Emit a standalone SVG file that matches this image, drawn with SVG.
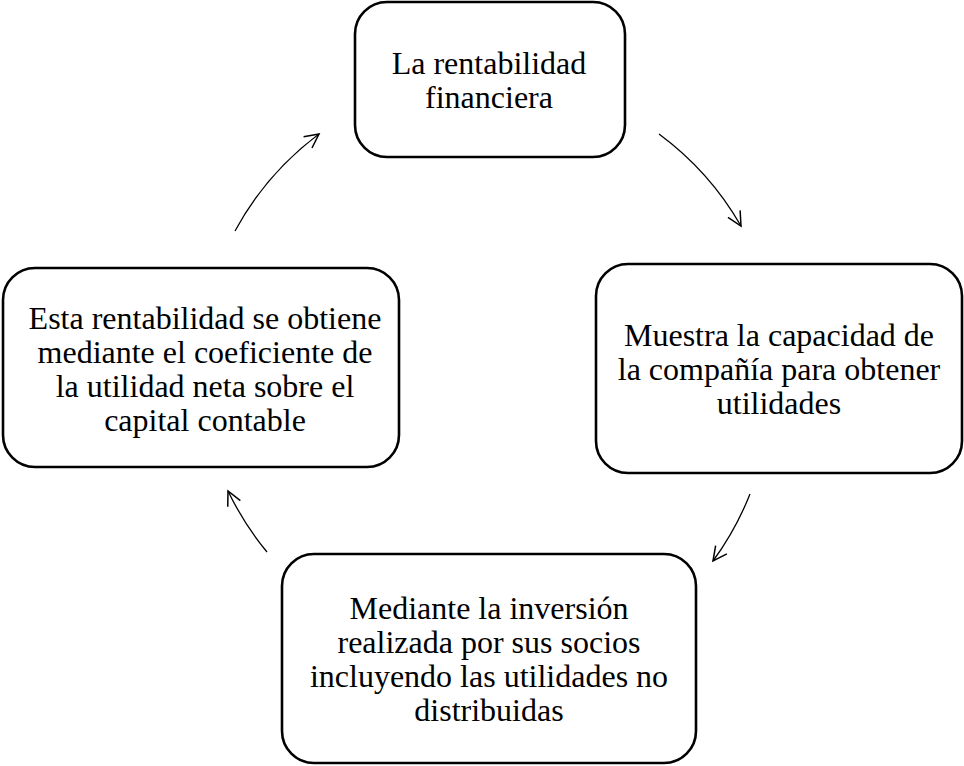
<svg xmlns="http://www.w3.org/2000/svg" width="964" height="766" viewBox="0 0 964 766">
<defs>
<style>
.box{fill:#fff;stroke:#000;stroke-width:2.6}
.t{font-family:"Liberation Serif","Times New Roman",serif;font-size:32px;fill:#000;text-anchor:middle}
.c{fill:none;stroke:#000;stroke-width:1.3}
</style>
<marker id="ah" viewBox="0 0 20 20" refX="16" refY="10" markerWidth="20" markerHeight="20" markerUnits="userSpaceOnUse" orient="auto">
<path d="M2 3 L16 10 L2 17" fill="none" stroke="#000" stroke-width="1.5"/>
</marker>
</defs>
<rect width="964" height="766" fill="#fff"/>
<g id="connectors">
<path class="c" d="M235 231 A300 300 0 0 1 319 134" marker-end="url(#ah)"/>
<path class="c" d="M659 134 A300 300 0 0 1 741 226" marker-end="url(#ah)"/>
<path class="c" d="M750 494 A300 300 0 0 1 713 561" marker-end="url(#ah)"/>
<path class="c" d="M267 552 A300 300 0 0 1 228 491" marker-end="url(#ah)"/>
</g>
<g id="n1">
<rect class="box" x="355" y="2" width="270" height="155" rx="32"/>
<text class="t" x="489" y="74">La rentabilidad</text>
<text class="t" x="489" y="108">financiera</text>
</g>
<g id="n2">
<rect class="box" x="596" y="264" width="366" height="209" rx="32"/>
<text class="t" x="779" y="346">Muestra la capacidad de</text>
<text class="t" x="779" y="380">la compañía para obtener</text>
<text class="t" x="779" y="414">utilidades</text>
</g>
<g id="n3">
<rect class="box" x="282" y="554" width="414" height="209" rx="32"/>
<text class="t" x="489" y="619">Mediante la inversión</text>
<text class="t" x="489" y="653">realizada por sus socios</text>
<text class="t" x="489" y="687">incluyendo las utilidades no</text>
<text class="t" x="489" y="721">distribuidas</text>
</g>
<g id="n4">
<rect class="box" x="3" y="268" width="396" height="199" rx="32"/>
<text class="t" x="205" y="329">Esta rentabilidad se obtiene</text>
<text class="t" x="205" y="363">mediante el coeficiente de</text>
<text class="t" x="205" y="397">la utilidad neta sobre el</text>
<text class="t" x="205" y="431">capital contable</text>
</g>
</svg>
